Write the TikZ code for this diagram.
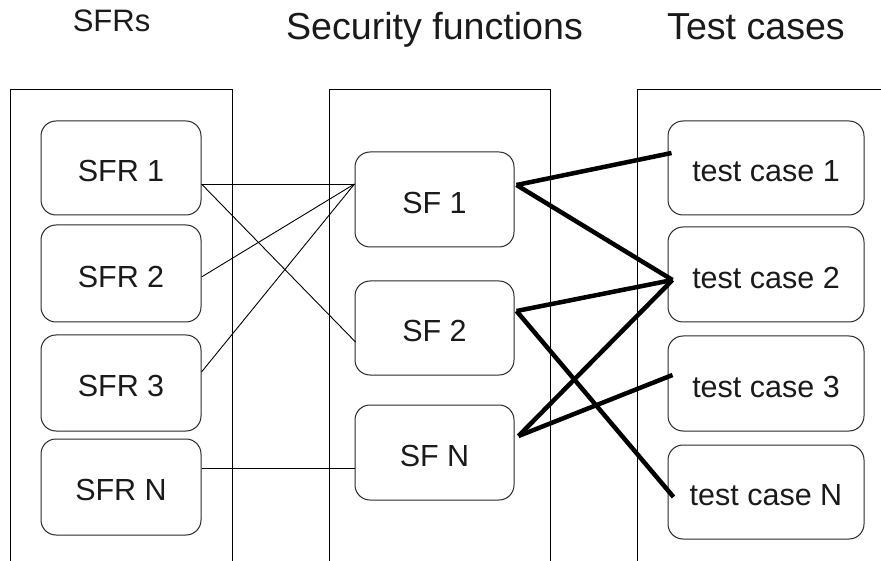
\documentclass[tikz,border=0pt]{standalone}
\usepackage{fontspec}
\setmainfont{Liberation Sans}
\definecolor{txt}{HTML}{1A1A1A}
\definecolor{boxline}{HTML}{2A2A2A}
\begin{document}
\begin{tikzpicture}[x=1pt,y=-1pt,
  title/.style={anchor=base,text=txt,font=\fontsize{37.6}{40}\selectfont,inner sep=0pt},
  smalltitle/.style={anchor=base,text=txt,font=\fontsize{31}{34}\selectfont,inner sep=0pt},
  rbox/.style={draw=boxline,line width=1pt,rounded corners=15pt,inner sep=0pt,
    text=txt,font=\fontsize{30.5}{33}\selectfont,minimum height=95pt,
    text height=30pt,text depth=2.2pt},
  sfrbox/.style={rbox,minimum width=160pt},
  sfbox/.style={rbox,minimum width=159pt},
  tcbox/.style={rbox,minimum width=196pt},
  column/.style={draw=black,line width=1pt},
  thin/.style={draw=black,line width=0.9pt},
  thick/.style={draw=black,line width=4.5pt}]
\useasboundingbox[fill=white] (0,0) rectangle (881,561);

% column frames
\draw[column] (10,561) -- (10,90) -- (232,90) -- (232,561);
\draw[column] (329,561) -- (329,90) -- (550,90) -- (550,561);
\draw[column] (637,561) -- (637,90) -- (881,90);

% titles
\node[smalltitle] (tSFR) at (111.5,32) {SFRs};
\node[title] (tSF) at (434.5,40) {Security functions};
\node[title] (tTC) at (756,40) {Test cases};

% SFR boxes
\node[sfrbox,minimum height=94pt] (sfr1) at (121,168) {SFR 1};
\node[sfrbox,minimum height=97pt] (sfr2) at (121,273.5) {SFR 2};
\node[sfrbox,minimum height=96pt] (sfr3) at (121,383) {SFR 3};
\node[sfrbox,minimum height=96pt] (sfrN) at (121,487) {SFR N};

% SF boxes
\node[sfbox] (sf1) at (434.5,199.5) {SF 1};
\node[sfbox,minimum height=94pt] (sf2) at (434.5,328) {SF 2};
\node[sfbox] (sfN) at (434.5,452.5) {SF N};

% test case boxes
\node[tcbox,minimum height=94pt] (tc1) at (766,168) {test case 1};
\node[tcbox] (tc2) at (766,274.5) {test case 2};
\node[tcbox] (tc3) at (766,383.5) {test case 3};
\node[tcbox,minimum height=94pt] (tcN) at (766,492) {test case N};

% thin connectors SFR -> SF
\draw[thin] ([yshift=-16pt]sfr1.east) -- ([yshift=15.5pt]sf1.west);
\draw[thin] ([yshift=-16pt]sfr1.east) -- ([yshift=-14pt,xshift=1pt]sf2.west);
\draw[thin] ([yshift=-3.5pt]sfr2.east) -- ([yshift=15.5pt]sf1.west);
\draw[thin] ([yshift=11pt]sfr3.east) -- ([yshift=15.5pt]sf1.west);
\draw[thin] ([yshift=19pt]sfrN.east) -- ([yshift=-15.5pt]sfN.west);

% thick connectors SF -> test cases
\draw[thick] ([xshift=2pt,yshift=14.5pt]sf1.east) -- ([xshift=4pt,yshift=15pt]tc1.west);
\draw[thick] ([xshift=2pt,yshift=14.5pt]sf1.east) -- ([xshift=5pt,yshift=-5.5pt]tc2.west);
\draw[thick] ([xshift=2pt,yshift=17pt]sf2.east) -- ([xshift=5pt,yshift=-5.5pt]tc2.west);
\draw[thick] ([xshift=2pt,yshift=17pt]sf2.east) -- ([xshift=6pt,yshift=-5pt]tcN.west);
\draw[thick] ([xshift=4pt,yshift=16.5pt]sfN.east) -- ([xshift=5pt,yshift=-5.5pt]tc2.west);
\draw[thick] ([xshift=4pt,yshift=16.5pt]sfN.east) -- ([xshift=5pt,yshift=8.5pt]tc3.west);
\end{tikzpicture}
\end{document}
